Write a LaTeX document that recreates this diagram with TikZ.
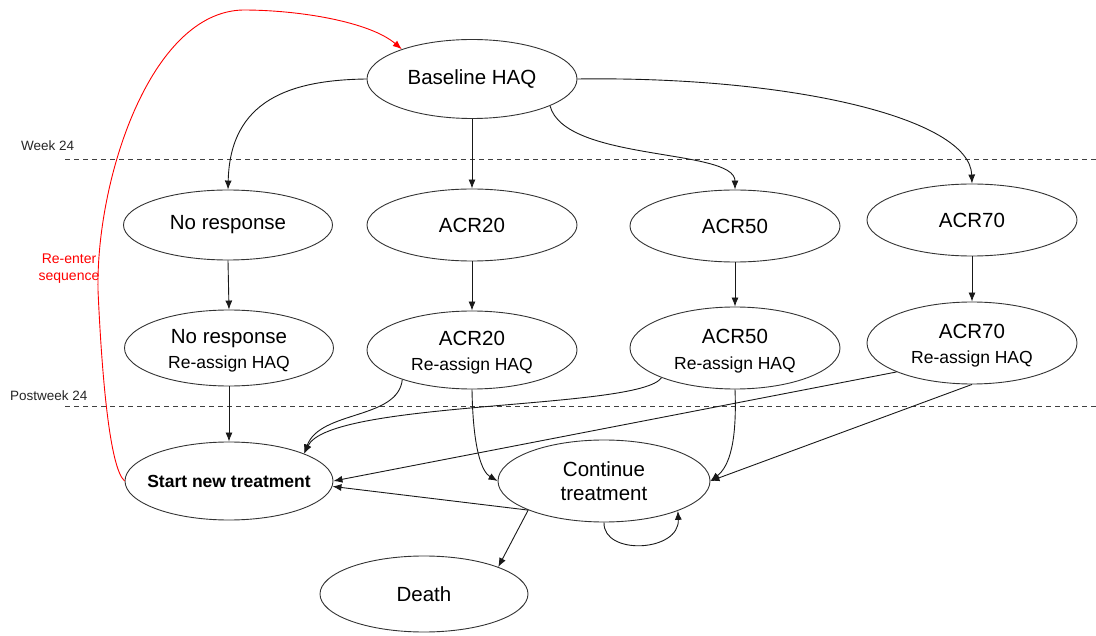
\documentclass[tikz,border=0pt]{standalone}
\usepackage{fontspec}
\setmainfont{Liberation Sans}
\usetikzlibrary{arrows.meta,shapes.geometric}
\begin{document}
\begin{tikzpicture}[x=1pt,y=-1pt,
  state/.style={ellipse,draw=black!80,line width=0.9pt,inner sep=0pt,align=center,
    font=\fontsize{20.5}{24}\selectfont},
  flow/.style={draw=black!90,line width=0.9pt,-{Latex[length=9pt,width=7pt]}},
  reenter/.style={draw=red,line width=0.9pt,-{Latex[length=9pt,width=7pt]}},
  stage/.style={draw=black!75,line width=0.9pt,dash pattern=on 5pt off 4pt},
  stagelabel/.style={font=\fontsize{13.5}{16}\selectfont,text=black!85,anchor=west,inner sep=0pt},
]
\useasboundingbox (0,0) rectangle (1096,636);

% stage boundaries
\node[stagelabel] (w24) at (21,146) {Week 24};
\node[stagelabel] (pw24) at (10,396) {Postweek 24};
\coordinate (w24a) at (65,159);
\coordinate (w24b) at (1096,159);
\coordinate (pw24a) at (65,406);
\coordinate (pw24b) at (1096,406);
\draw[stage] (w24a) -- (w24b);
\draw[stage] (pw24a) -- (pw24b);

% states
\node[state,minimum width=210pt,minimum height=79pt] (base) at (472,79) {Baseline HAQ};

\node[state,minimum width=209pt,minimum height=70pt] (nr1) at (228,225) {No response};
\node[state,minimum width=210pt,minimum height=72pt] (a20) at (472,225) {ACR20};
\node[state,minimum width=210pt,minimum height=72pt] (a50) at (735,226) {ACR50};
\node[state,minimum width=210pt,minimum height=72pt] (a70) at (972,220) {ACR70};

\node[state,minimum width=209pt,minimum height=76pt] (nr2) at (229,348)
  {\rule{0pt}{20pt}No response\\[1pt]{\fontsize{17.5}{21}\selectfont Re-assign HAQ}};
\node[state,minimum width=210pt,minimum height=78pt] (b20) at (472,350)
  {\rule{0pt}{20pt}ACR20\\[1pt]{\fontsize{17.5}{21}\selectfont Re-assign HAQ}};
\node[state,minimum width=210pt,minimum height=82pt] (b50) at (735,348)
  {\rule{0pt}{20pt}ACR50\\[2pt]{\fontsize{17.5}{21}\selectfont Re-assign HAQ}};
\node[state,minimum width=210pt,minimum height=82pt] (b70) at (972,343)
  {\rule{0pt}{20pt}ACR70\\[1pt]{\fontsize{17.5}{21}\selectfont Re-assign HAQ}};

\node[state,minimum width=208pt,minimum height=78pt,inner xsep=-12pt,
  font=\fontsize{17.5}{21}\bfseries\selectfont] (start) at (229,481)
  {Start new treatment};
\node[state,minimum width=212pt,minimum height=82pt] (cont) at (604,481)
  {Continue\\treatment};
\node[state,minimum width=208pt,minimum height=76pt] (death) at (424,594) {Death};

% baseline to week-24 response
\draw[flow] (base.west) .. controls (290,80) and (230,100) .. (nr1.north);
\draw[flow] (base.south) -- (a20.north);
\draw[flow] (base.341) .. controls (565,162) and (735,148) .. (a50.north);
\draw[flow] (base.east) .. controls (790,76) and (970,118) .. (a70.north);

% re-assignment
\draw[flow] (nr1.south) -- (nr2.north);
\draw[flow] (a20.south) -- (a20.south |- b20.north);
\draw[flow] (a50.south) -- (a50.south |- b50.north);
\draw[flow] (a70.south) -- (a70.south |- b70.north);

% post week 24
\draw[flow] (nr2.south) -- (start.north);
\draw[flow] (b20.203) .. controls (398,420) and (320,410) .. (start.20);
\draw[flow] (b50.202) .. controls (640,410) and (330,400) .. (start.20);
\draw[flow] (b70.201) -- (start.east);
\draw[flow] (b20.south) .. controls (473,450) and (482,472) .. (cont.west);
\draw[flow] (b50.south) .. controls (737,440) and (730,466) .. (cont.east);
\draw[flow] (b70.south) -- (cont.east);
\draw[flow] (cont.201) -- (start.-3);
\draw[flow] (cont.201) -- (death.20);
\draw[flow] (cont.south) .. controls (603,556) and (680,552) .. (cont.-22);

% back to the start of the sequence
\draw[reenter] (start.west) .. controls (110,468) and (102,380) .. (98,290)
  .. controls (96,180) and (150,12) .. (243,10)
  .. controls (300,10) and (370,22) .. (base.157);
\node[text=red,font=\fontsize{14}{17}\selectfont,align=center,inner sep=0pt] (re) at (69,269)
  {Re-enter\\sequence};
\end{tikzpicture}
\end{document}
